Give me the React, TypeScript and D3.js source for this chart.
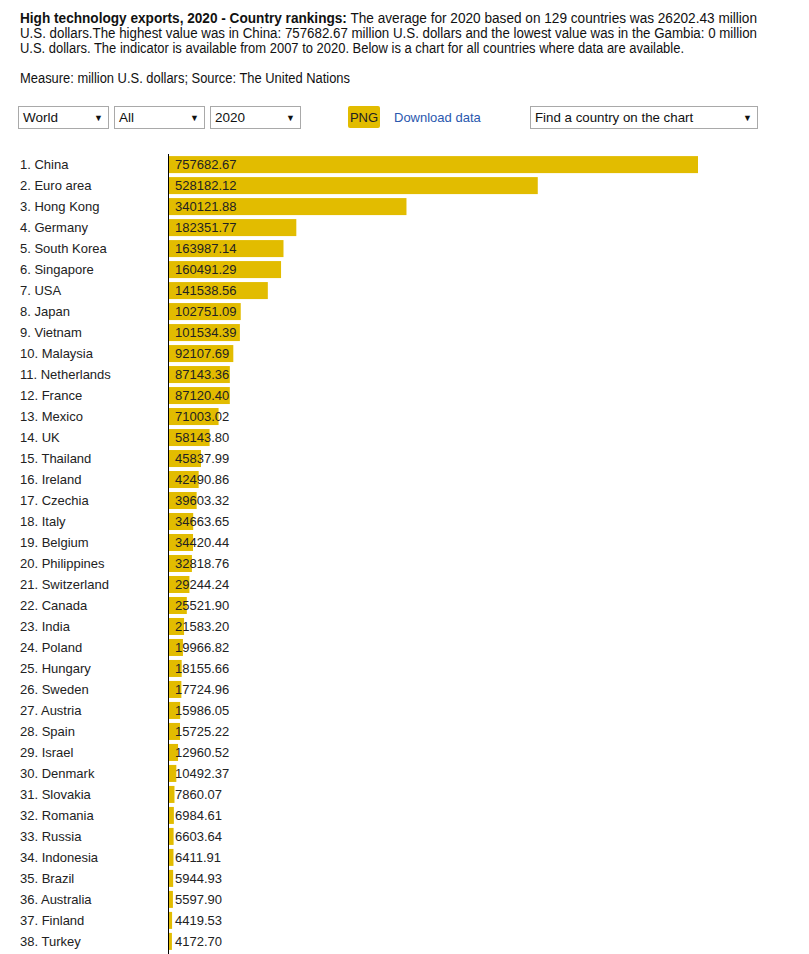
import React from "react";
import * as d3 from "d3";

const countries = ["China","Euro area","Hong Kong","Germany","South Korea","Singapore","USA","Japan","Vietnam","Malaysia","Netherlands","France","Mexico","UK","Thailand","Ireland","Czechia","Italy","Belgium","Philippines","Switzerland","Canada","India","Poland","Hungary","Sweden","Austria","Spain","Israel","Denmark","Slovakia","Romania","Russia","Indonesia","Brazil","Australia","Finland","Turkey"];
const values = [757682.67,528182.12,340121.88,182351.77,163987.14,160491.29,141538.56,102751.09,101534.39,92107.69,87143.36,87120.40,71003.02,58143.80,45837.99,42490.86,39603.32,34663.65,34420.44,32818.76,29244.24,25521.90,21583.20,19966.82,18155.66,17724.96,15986.05,15725.22,12960.52,10492.37,7860.07,6984.61,6603.64,6411.91,5944.93,5597.90,4419.53,4172.70];

const headerLines = [
  { bold: "High technology exports, 2020 - Country rankings:", rest: " The average for 2020 based on 129 countries was 26202.43 million" },
  { bold: "", rest: "U.S. dollars.The highest value was in China: 757682.67 million U.S. dollars and the lowest value was in the Gambia: 0 million" },
  { bold: "", rest: "U.S. dollars. The indicator is available from 2007 to 2020. Below is a chart for all countries where data are available." },
];
const measureText = "Measure: million U.S. dollars; Source: The United Nations";
const selects = [
  { label: "World", x: 18, w: 90 },
  { label: "All", x: 114, w: 90 },
  { label: "2020", x: 210, w: 90 },
];

const BAR = "#e2bc00";
const FONT = "'Liberation Sans', Arial, sans-serif";
const NARROW = "'Liberation Sans Narrow', 'Liberation Sans', Arial, sans-serif";

export default function App() {
  const x = d3.scaleLinear().domain([0, d3.max(values) as number]).range([169, 698]);
  const y = d3.scaleBand().domain(countries).range([154, 154 + 21 * countries.length]).paddingInner(0.19).paddingOuter(0.1);
  const lineEnds = [757, 757, 684];
  return (
    <svg width={809} height={954} style={{ position: "absolute", left: 0, top: 0, background: "#fff" }} fontFamily={FONT}>
      {headerLines.map((l, i) => (
        <text key={i} x={20} y={23 + i * 15} fontSize={14} fontFamily={NARROW} fill="#111"
          textLength={lineEnds[i] - 20} lengthAdjust="spacingAndGlyphs">
          {l.bold && <tspan fontWeight="bold">{l.bold}</tspan>}
          <tspan>{l.rest}</tspan>
        </text>
      ))}
      <text x={20} y={83} fontSize={14} fontFamily={NARROW} fill="#111" textLength={330} lengthAdjust="spacingAndGlyphs">{measureText}</text>
      {selects.map((s) => (
        <g key={s.label}>
          <rect x={s.x + 0.5} y={106.5} width={s.w} height={22} fill="#fff" stroke="#a9a9a9" />
          <text x={s.x + 5} y={122} fontSize={13.5} fill="#111">{s.label}</text>
          <text x={s.x + s.w - 14} y={121} fontSize={9} fill="#111">▼</text>
        </g>
      ))}
      <rect x={348} y={106} width={32} height={22} rx={2} fill={BAR} />
      <text x={364} y={121.5} fontSize={13} textAnchor="middle" fill="#222">PNG</text>
      <text x={394} y={122} fontSize={13} fill="#2a58ae">Download data</text>
      <rect x={530.5} y={106.5} width={227} height={22} fill="#fff" stroke="#a9a9a9" />
      <text x={535} y={122} fontSize={13.3} fill="#111">Find a country on the chart</text>
      <text x={743} y={121} fontSize={9} fill="#111">▼</text>

      {countries.map((c, i) => {
        const yy = y(c) as number;
        const h = y.bandwidth();
        return (
          <g key={c}>
            <text x={20} y={yy + h / 2 + 4.5} fontSize={13} fill="#222">{`${i + 1}. ${c}`}</text>
            <rect x={x(0)} y={yy} width={x(values[i]) - x(0)} height={h} fill={BAR} />
            <text x={175} y={yy + h / 2 + 4.5} fontSize={13} fill="#222">{values[i].toFixed(2)}</text>
          </g>
        );
      })}
      <line x1={168.5} x2={168.5} y1={154} y2={954} stroke="#000" strokeWidth={1} />
    </svg>
  );
}
